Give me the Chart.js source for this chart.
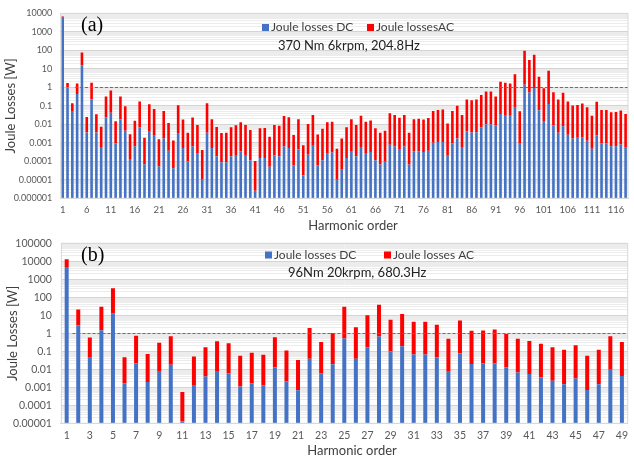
<!DOCTYPE html>
<html>
<head>
<meta charset="utf-8">
<script src="https://cdn.jsdelivr.net/npm/chart.js@4.4.1/dist/chart.umd.min.js"></script>
<style>
  html, body { margin: 0; padding: 0; background: #ffffff; }
  body { position: relative; width: 634px; height: 462px; overflow: hidden; }
  #boxA { position: absolute; left: 0; top: 0; width: 634px; height: 240px; }
  #boxB { position: absolute; left: 0; top: 228px; width: 634px; height: 234px; }
  canvas { display: block; }
</style>
</head>
<body>
<div id="boxA"><canvas id="chartA" width="634" height="240"></canvas></div>
<div id="boxB"><canvas id="chartB" width="634" height="234"></canvas></div>
<script>
// ---------- Panel (a): 370 Nm, 6 krpm, 204.8 Hz ----------
const harmonicsA = [
  1, 2, 3, 4, 5, 6, 7, 8, 9, 10, 11, 12, 13, 14, 15, 16, 17, 18, 19, 20,
  21, 22, 23, 24, 25, 26, 27, 28, 29, 30, 31, 32, 33, 34, 35, 36, 37, 38, 39, 40,
  41, 42, 43, 44, 45, 46, 47, 48, 49, 50, 51, 52, 53, 54, 55, 56, 57, 58, 59, 60,
  61, 62, 63, 64, 65, 66, 67, 68, 69, 70, 71, 72, 73, 74, 75, 76, 77, 78, 79, 80,
  81, 82, 83, 84, 85, 86, 87, 88, 89, 90, 91, 92, 93, 94, 95, 96, 97, 98, 99, 100,
  101, 102, 103, 104, 105, 106, 107, 108, 109, 110, 111, 112, 113, 114, 115, 116, 117, 118
];
// DC part of the Joule losses per harmonic [W]
const dcLossesA = [
  5800, 1.0, 0.053, 0.44, 15, 0.0036, 0.22, 0.0036, 0.0006, 0.024,
  0.042, 0.00091, 0.018, 0.0045, 0.000135, 0.00066, 0.007, 0.00007, 0.0043, 0.0024,
  0.000053, 0.0017, 0.00037, 0.000042, 0.0031, 0.00052, 0.0001, 0.00063, 0.00026, 0.000011,
  0.0035, 0.00052, 0.00019, 0.00009, 0.00009, 0.00018, 0.00022, 0.00035, 0.00022, 0.000115,
  0.0000026, 0.00015, 0.00015, 0.000051, 0.00021, 0.00019, 0.00063, 0.00052, 0.00006, 0.00044,
  0.000017, 0.00023, 0.00069, 0.00006, 0.000115, 0.00026, 0.0003, 0.00001, 0.000035, 0.00015,
  0.00036, 0.00019, 0.0006, 0.00028, 0.00032, 0.000115, 0.000068, 0.000094, 0.00078, 0.00063,
  0.00046, 0.00063, 0.000068, 0.00035, 0.00035, 0.00032, 0.00037, 0.001, 0.0011, 0.0011,
  0.0002, 0.00095, 0.0017, 0.00059, 0.0041, 0.0036, 0.0036, 0.0067, 0.01, 0.01,
  0.0089, 0.036, 0.029, 0.029, 0.08, 0.00088, 1.4, 0.52, 0.92, 0.058,
  0.014, 0.125, 0.0089, 0.0035, 0.0079, 0.0027, 0.0017, 0.0019, 0.002, 0.0013,
  0.00048, 0.0025, 0.00091, 0.00095, 0.00066, 0.00066, 0.00081, 0.00054
];
// AC (eddy-current) share stacked on top of the DC part [W]
const acLossesA = [
  1000, 0.7, 0.087, 1.16, 63, 0.021, 1.58, 0.032, 0.0067, 0.30,
  0.63, 0.014, 0.30, 0.09, 0.0028, 0.015, 0.163, 0.0018, 0.116, 0.066,
  0.0015, 0.051, 0.0116, 0.0013, 0.103, 0.0175, 0.0034, 0.023, 0.009, 0.0004,
  0.136, 0.0185, 0.0071, 0.0033, 0.0034, 0.0068, 0.0087, 0.0127, 0.0091, 0.0049,
  0.0001, 0.006, 0.0062, 0.0021, 0.0091, 0.0081, 0.028, 0.0235, 0.0026, 0.0186,
  0.00073, 0.0103, 0.031, 0.0028, 0.0056, 0.0127, 0.0137, 0.00047, 0.0017, 0.0069,
  0.0186, 0.0091, 0.029, 0.0137, 0.0157, 0.0061, 0.0034, 0.0044, 0.039, 0.031,
  0.0225, 0.031, 0.0034, 0.0187, 0.0197, 0.0177, 0.0216, 0.052, 0.059, 0.062,
  0.0108, 0.052, 0.098, 0.031, 0.216, 0.196, 0.216, 0.383, 0.58, 0.58,
  0.311, 1.96, 1.77, 1.57, 5.0, 0.050, 93, 29.5, 57, 3.64,
  0.87, 7.8, 0.53, 0.216, 0.51, 0.167, 0.104, 0.108, 0.134, 0.083,
  0.0285, 0.164, 0.059, 0.059, 0.044, 0.046, 0.055, 0.0355
];
const xTickLabelsA = [1, 6, 11, 16, 21, 26, 31, 36, 41, 46, 51, 56, 61, 66, 71, 76, 81, 86, 91, 96, 101, 106, 111, 116];
const yTickLabelsA = ['0.000001', '0.00001', '0.0001', '0.001', '0.01', '0.1', '1', '10', '100', '1000', '10000'];
const legendLabelsA = ['Joule losses DC', 'Joule lossesAC'];
const subtitleA = '370 Nm 6krpm, 204.8Hz';

// ---------- Panel (b): 96 Nm, 20 krpm, 680.3 Hz ----------
const harmonicsB = [
  1, 2, 3, 4, 5, 6, 7, 8, 9, 10, 11, 12, 13, 14, 15, 16, 17, 18, 19, 20,
  21, 22, 23, 24, 25, 26, 27, 28, 29, 30, 31, 32, 33, 34, 35, 36, 37, 38, 39, 40,
  41, 42, 43, 44, 45, 46, 47, 48, 49
];
const dcLossesB = [
  4800, 2.8, 0.044, 1.5, 13, 0.0017, 0.022, 0.002, 0.008, 0.018,
  0.0000128, 0.0012, 0.004, 0.008, 0.006, 0.0011, 0.0017, 0.0013, 0.0125, 0.0021,
  0.00068, 0.038, 0.006, 0.019, 0.52, 0.038, 0.17, 0.66, 0.097, 0.19,
  0.067, 0.067, 0.046, 0.008, 0.076, 0.02, 0.021, 0.022, 0.0125, 0.0067,
  0.0055, 0.0035, 0.0023, 0.0015, 0.0031, 0.0007, 0.0015, 0.0093, 0.0043
];
const acLossesB = [
  8000, 18.2, 0.546, 28.5, 307, 0.0443, 0.698, 0.068, 0.292, 0.672,
  0.000537, 0.0508, 0.166, 0.352, 0.274, 0.0559, 0.0803, 0.0627, 0.5975, 0.1079,
  0.0323, 1.962, 0.324, 1.021, 29.5, 2.16, 9.83, 37.3, 5.5, 11.5,
  4.33, 4.33, 2.95, 0.492, 5.02, 1.38, 1.43, 1.58, 0.9075, 0.493,
  0.3645, 0.2565, 0.1637, 0.1185, 0.2169, 0.0563, 0.1185, 0.6807, 0.3257
];
const xTickLabelsB = [1, 3, 5, 7, 9, 11, 13, 15, 17, 19, 21, 23, 25, 27, 29, 31, 33, 35, 37, 39, 41, 43, 45, 47, 49];
const yTickLabelsB = ['0.00001', '0.0001', '0.001', '0.01', '0.1', '1', '10', '100', '1000', '10000', '100000'];
const legendLabelsB = ['Joule losses DC', 'Joule losses AC'];
const subtitleB = '96Nm 20krpm, 680.3Hz';

const axisTitleX = 'Harmonic order';
const axisTitleY = 'Joule Losses [W]';
const thresholdLoss = 1;   // reference level drawn as a dashed line

const DC_COLOR = '#4472C4';
const AC_COLOR = '#FF0000';
const TEXT_COLOR = '#404040';
const TICK_COLOR = '#595959';
const SANS = 'Lato, "Open Sans", "DejaVu Sans", sans-serif';

function isDecade(v) {
  const e = Math.log10(v);
  return Math.abs(e - Math.round(e)) < 1e-9;
}

// Draws panel letter, in-plot legend, operating point, axis titles,
// the plot frame and the dashed 1 W reference line.
function panelDecor(p) {
  return {
    id: 'panelDecor' + p.letter,
    afterDatasetsDraw(chart) {
      const ctx = chart.ctx;
      const area = chart.chartArea;
      const xs = chart.scales.x, ys = chart.scales.y;
      ctx.save();
      // dashed reference line, snapped to the pixel grid so it stays crisp
      const yRef = Math.round(ys.getPixelForValue(thresholdLoss)) + 0.5;
      ctx.strokeStyle = DC_COLOR;
      ctx.lineWidth = 1;
      ctx.setLineDash([3, 2]);
      ctx.beginPath();
      ctx.moveTo(xs.getPixelForValue(p.refStart), yRef);
      ctx.lineTo(area.right, yRef);
      ctx.stroke();
      ctx.setLineDash([]);
      // plot frame
      ctx.strokeStyle = '#d9d9d9';
      ctx.strokeRect(area.left + 0.5, area.top, area.right - area.left - 0.5, area.bottom - area.top);
      ctx.restore();
    },
    afterDraw(chart) {
      const ctx = chart.ctx;
      const area = chart.chartArea;
      ctx.save();
      // panel letter
      ctx.fillStyle = '#000000';
      ctx.font = '20px "Liberation Serif", "Times New Roman", serif';
      ctx.textBaseline = 'middle';
      ctx.textAlign = 'left';
      ctx.fillText(p.letter, p.letterX, p.letterY);
      // legend
      ctx.font = '12px ' + SANS;
      ctx.fillStyle = DC_COLOR;
      ctx.fillRect(p.legX[0], p.legY - 3.5, 7, 7);
      ctx.fillStyle = AC_COLOR;
      ctx.fillRect(p.legX[1], p.legY - 3.5, 7, 7);
      ctx.fillStyle = TEXT_COLOR;
      ctx.fillText(p.legend[0], p.legX[0] + 9, p.legY);
      ctx.fillText(p.legend[1], p.legX[1] + 9, p.legY);
      // operating point
      ctx.font = '13px ' + SANS;
      ctx.fillStyle = '#222222';
      ctx.fillText(p.subtitle, p.subX, p.subY);
      // axis titles
      ctx.font = '13px ' + SANS;
      ctx.fillStyle = TEXT_COLOR;
      ctx.textAlign = 'center';
      ctx.fillText(axisTitleX, p.xTitleX, p.xTitleY);
      ctx.translate(p.yTitleX, (area.top + area.bottom) / 2);
      ctx.rotate(-Math.PI / 2);
      ctx.fillText(axisTitleY, 0, 0);
      ctx.restore();
    }
  };
}

function buildChart(canvasId, s) {
  const decadeTicks = [];
  for (let e = s.minExp; e < s.maxExp; e++) {
    for (let m = 1; m <= 9; m++) decadeTicks.push(m * Math.pow(10, e));
  }
  decadeTicks.push(Math.pow(10, s.maxExp));

  return new Chart(document.getElementById(canvasId), {
    type: 'bar',
    data: {
      labels: s.labels,
      datasets: [
        { label: s.legend[0], data: s.dc, backgroundColor: DC_COLOR, borderWidth: 0,
          inflateAmount: 0, barThickness: s.barThickness },
        { label: s.legend[1], data: s.ac, backgroundColor: AC_COLOR, borderWidth: 0,
          inflateAmount: 0, barThickness: s.barThickness }
      ]
    },
    options: {
      responsive: false,
      animation: false,
      events: [],
      layout: { padding: s.padding },
      plugins: { legend: { display: false }, tooltip: { enabled: false }, title: { display: false } },
      scales: {
        x: {
          stacked: true,
          offset: true,
          grid: { display: false, drawTicks: false },
          border: { display: true, color: '#d9d9d9' },
          ticks: {
            autoSkip: false, maxRotation: 0, minRotation: 0,
            padding: s.xTickPad,
            color: TICK_COLOR,
            font: { family: SANS, size: s.xTickSize },
            callback(value, index) {
              const lab = s.labels[index];
              return s.xTicks.includes(lab) ? String(lab) : '';
            }
          },
          afterFit(scale) { scale.height = s.xAxisHeight; }
        },
        y: {
          type: 'logarithmic',
          stacked: true,
          min: Math.pow(10, s.minExp),
          max: Math.pow(10, s.maxExp),
          grid: {
            drawTicks: false,
            color(ctx) { return ctx.tick && isDecade(ctx.tick.value) ? '#d4d4d4' : '#ececec'; },
            lineWidth: 1
          },
          border: { display: false },
          afterBuildTicks(scale) { scale.ticks = decadeTicks.map(v => ({ value: v })); },
          ticks: {
            autoSkip: false,
            padding: s.yTickPad,
            color: TICK_COLOR,
            font: { family: SANS, size: s.yTickSize },
            callback(value) {
              if (!isDecade(value)) return '';
              return s.yTicks[Math.round(Math.log10(value)) - s.minExp];
            }
          },
          afterFit(scale) { scale.width = s.yAxisWidth; }
        }
      }
    },
    plugins: [panelDecor(s.decor)]
  });
}

buildChart('chartA', {
  labels: harmonicsA, dc: dcLossesA, ac: acLossesA,
  xTicks: xTickLabelsA, yTicks: yTickLabelsA, legend: legendLabelsA,
  minExp: -6, maxExp: 4,
  barThickness: 2.6,
  padding: { top: 9.3, right: 6, bottom: 0, left: 0 },
  xAxisHeight: 41.7, yAxisWidth: 60.3,
  xTickPad: 6, xTickSize: 9.5, yTickPad: 8, yTickSize: 9,
  decor: {
    letter: '(a)', letterX: 81, letterY: 26,
    legend: legendLabelsA, legX: [262, 367], legY: 27.5,
    subtitle: subtitleA, subX: 278, subY: 45.5,
    xTitleX: 353, xTitleY: 226, yTitleX: 11, refStart: 2.55
  }
});

buildChart('chartB', {
  labels: harmonicsB, dc: dcLossesB, ac: acLossesB,
  xTicks: xTickLabelsB, yTicks: yTickLabelsB, legend: legendLabelsB,
  minExp: -5, maxExp: 5,
  barThickness: 4,
  padding: { top: 8, right: 0.8, bottom: 0, left: 0 },
  xAxisHeight: 38.7, yAxisWidth: 60.9,
  xTickPad: 6, xTickSize: 10.5, yTickPad: 9, yTickSize: 10.5,
  decor: {
    letter: '(b)', letterX: 81, letterY: 28,
    legend: legendLabelsB, legX: [265, 384], legY: 27,
    subtitle: subtitleB, subX: 288, subY: 45.3,
    xTitleX: 352, xTitleY: 223, yTitleX: 13, refStart: 0.5
  }
});
</script>
</body>
</html>
